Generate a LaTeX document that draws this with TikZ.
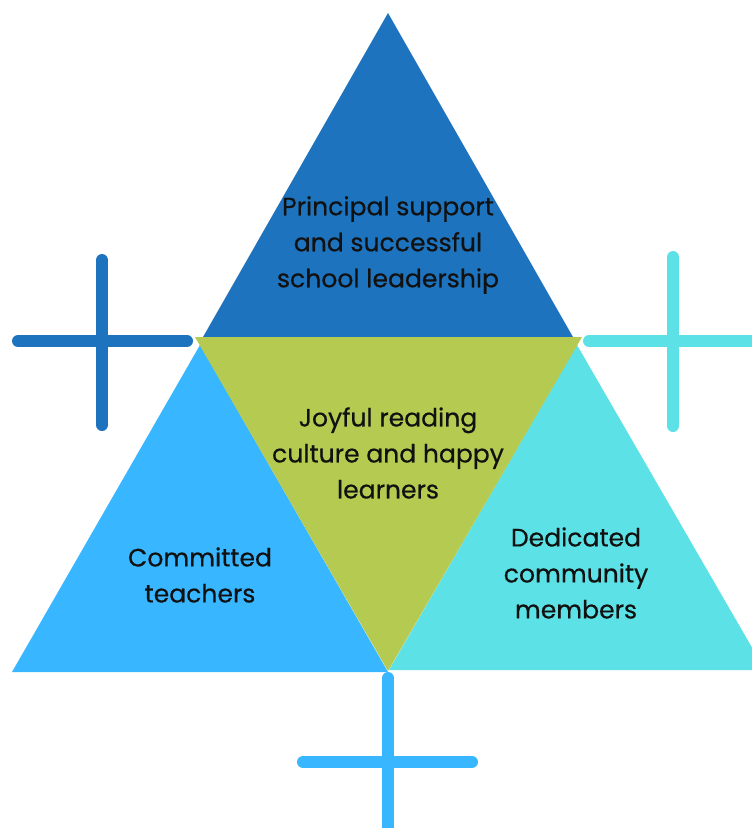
\documentclass[tikz,border=0pt]{standalone}
\usepackage{fontspec}
\setmainfont{Poppins}
% slightly heavier text face for the labels
\newfontfamily\labelfont{Poppins}[BoldFont=Poppins, BoldFeatures={FakeBold=0.5}]
\definecolor{leadblue}{HTML}{1E73BE}
\definecolor{joygreen}{HTML}{B4CA50}
\definecolor{teachblue}{HTML}{38B6FF}
\definecolor{commcyan}{HTML}{5CE1E6}
\definecolor{inktext}{HTML}{111111}
\tikzset{
  label/.style={align=center, text=inktext, font=\labelfont\bfseries\fontsize{18.8}{27}\selectfont, inner sep=0pt},
  plus/.style={line width=9pt, line cap=round},
}
\begin{document}
\begin{tikzpicture}[x=0.75pt, y=-0.75pt]
\clip (0,0) rectangle (752,828);
% four triangles of the model
\fill[leadblue] (388,13) -- (573,337) -- (203,337) -- cycle;
\fill[teachblue] (200,345) -- (388,672) -- (12,672) -- cycle;
\fill[commcyan] (577,345) -- (765,670) -- (389,670) -- cycle;
\fill[joygreen] (195,337) -- (582,337) -- (388,671) -- cycle;
% plus signs between the triangles
\draw[plus, leadblue] (102,260) -- (102,425);
\draw[plus, leadblue] (18,341) -- (187,341);
\draw[plus, commcyan] (673,257) -- (673,426);
\draw[plus, commcyan] (589,341) -- (780,341);
\draw[plus, teachblue] (388,678) -- (388,860);
\draw[plus, teachblue] (303,762) -- (472,762);
% labels
\node[label] (lead) at (388,245) {Principal support\\and successful\\school leadership};
\node[label] (joy) at (388,453) {Joyful reading\\culture and happy\\learners};
\node[label] (teach) at (200,575) {Committed\\teachers};
\node[label] (comm) at (576,573) {Dedicated\\community\\members};
\end{tikzpicture}
\end{document}
